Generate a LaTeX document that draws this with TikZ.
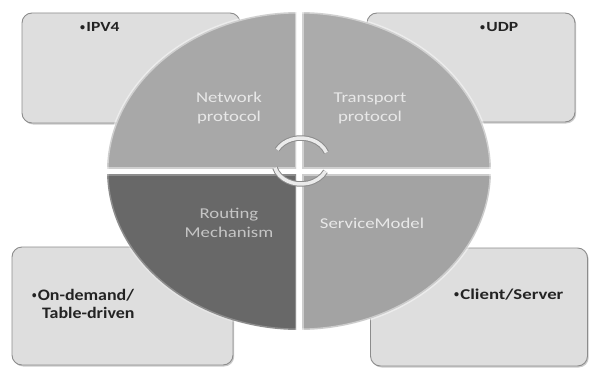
\documentclass[tikz,border=0pt]{standalone}
\usepackage{fontspec}
\setmainfont{Carlito}
\usepackage{graphicx}
\usetikzlibrary{shadows}
\definecolor{boxfill}{HTML}{DEDEDE}
\definecolor{boxline}{HTML}{8C8C8C}
\definecolor{qtl}{HTML}{A8A8A8}
\definecolor{qtr}{HTML}{ABABAB}
\definecolor{qbl}{HTML}{686868}
\definecolor{qbr}{HTML}{A3A3A3}
\definecolor{qtext}{HTML}{E8E8E8}
\definecolor{btext}{HTML}{232323}
\newcommand{\wide}[1]{\scalebox{1.25}[1]{#1}}
\newcommand{\midwide}[1]{\scalebox{1.12}[1]{#1}}
\newcommand{\bul}{\raisebox{1.6pt}{\scalebox{0.8}[1]{\fontsize{10}{10}\selectfont •}}\kern1pt}
\tikzset{
  infobox/.style={draw=boxline, line width=0.9pt, fill=boxfill, rounded corners=10pt,
    drop shadow={shadow xshift=1.2pt, shadow yshift=-1.5pt, fill=black!40}},
  rim/.style={draw=white, line width=3pt, opacity=0.45},
  qlabel/.style={text=qtext, inner sep=0pt, anchor=base, font=\fontsize{15}{19}\selectfont},
  blabel/.style={text=btext, inner sep=0pt, anchor=base west, font=\bfseries\fontsize{15}{18}\selectfont},
  ringback/.style={draw=black!45, line width=5.5pt},
  ringfront/.style={draw=white!92!black, line width=3.5pt}
}
\begin{document}
\begin{tikzpicture}[x=1pt,y=-1pt]
\useasboundingbox (0,0) rectangle (591,369);
\fill[white] (0,0) rectangle (591,369);
% boxes
\node[infobox, minimum width=218pt, minimum height=110pt] (b1) at (131,68) {};
\node[infobox, minimum width=208pt, minimum height=109pt] (b2) at (471,67.5) {};
\node[infobox, minimum width=221pt, minimum height=118pt] (b3) at (122.5,306) {};
\node[infobox, minimum width=217pt, minimum height=118pt] (b4) at (479,307) {};
% quadrants
\begin{scope}
  \clip (0,0) rectangle (296,168);
  \fill[qtl] (299,171) ellipse [x radius=192, y radius=159];
  \draw[rim] (299,171) ellipse [x radius=192, y radius=159];
  \draw[rim] (0,168) -- (296,168) -- (296,0);
\end{scope}
\begin{scope}
  \clip (302,0) rectangle (591,168);
  \fill[qtr] (299,171) ellipse [x radius=192, y radius=159];
  \draw[rim] (299,171) ellipse [x radius=192, y radius=159];
  \draw[rim] (591,168) -- (302,168) -- (302,0);
\end{scope}
\begin{scope}
  \clip (0,174) rectangle (296,369);
  \fill[qbl] (299,171) ellipse [x radius=192, y radius=159];
  \draw[rim, opacity=0.25] (299,171) ellipse [x radius=192, y radius=159];
  \draw[rim, opacity=0.25] (0,174) -- (296,174) -- (296,369);
\end{scope}
\begin{scope}
  \clip (302,174) rectangle (591,369);
  \fill[qbr] (299,171) ellipse [x radius=192, y radius=159];
  \draw[rim] (299,171) ellipse [x radius=192, y radius=159];
  \draw[rim] (591,174) -- (302,174) -- (302,369);
\end{scope}
% centre ring
\draw[ringback] (301,162) ++(165:27 and 22) arc [start angle=165, end angle=25, x radius=27, y radius=22];
\draw[ringfront] (301,162) ++(165:27 and 22) arc [start angle=165, end angle=25, x radius=27, y radius=22];
\draw[ringback] (301,160) ++(-20:27 and 22) arc [start angle=-20, end angle=-152, x radius=27, y radius=22];
\draw[ringfront] (301,160) ++(-20:27 and 22) arc [start angle=-20, end angle=-152, x radius=27, y radius=22];
% quadrant labels
\node[qlabel] (net) at (229,102) {\wide{\begin{tabular}[t]{@{}c@{}}Network\\protocol\end{tabular}}};
\node[qlabel] (tra) at (370,102) {\wide{\begin{tabular}[t]{@{}c@{}}Transport\\protocol\end{tabular}}};
\node[qlabel, text=qtext!85!black] (rou) at (229,218) {\wide{\begin{tabular}[t]{@{}c@{}}Routing\\Mechanism\end{tabular}}};
\node[qlabel] (ser) at (372,228) {\wide{ServiceModel}};
% box labels
\node[blabel, font=\bfseries\fontsize{14}{17}\selectfont] (ipv) at (80,32) {\wide{\bul IPV4}};
\node[blabel, font=\bfseries\fontsize{14}{17}\selectfont] (udp) at (480,32) {\wide{\bul UDP}};
\node[blabel, font=\bfseries\fontsize{16}{18}\selectfont] (ond) at (32,300) {\midwide{\bul On-demand/}};
\node[blabel, font=\bfseries\fontsize{16}{18}\selectfont] (tab) at (42,318) {\midwide{Table-driven}};
\node[blabel] (cli) at (454,299) {\wide{\bul Client/Server}};
\end{tikzpicture}
\end{document}
